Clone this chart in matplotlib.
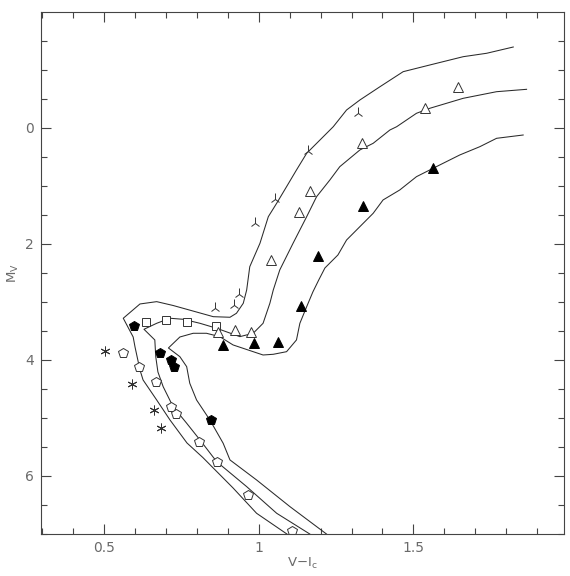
import matplotlib
matplotlib.use("Agg")
import matplotlib.pyplot as plt
from matplotlib.ticker import MultipleLocator, FixedLocator

# ---- isochrone curves (V-Ic, Mv) ----
curveA_x = [1.091, 0.993, 0.917, 0.819, 0.768, 0.713, 0.670, 0.626, 0.616, 0.600, 0.594, 0.562,
            0.616, 0.670, 0.723, 0.787, 0.853, 0.907, 0.928, 0.950, 0.961, 0.971, 1.004, 1.031,
            1.058, 1.090, 1.122, 1.155, 1.198, 1.241, 1.284, 1.327, 1.392, 1.467, 1.553, 1.661,
            1.737, 1.823]
curveA_y = [7.00, 6.643, 6.207, 5.681, 5.432, 5.035, 4.691, 4.346, 4.174, 3.778, 3.606, 3.283,
            3.037, 2.997, 3.063, 3.158, 3.256, 3.266, 3.197, 3.025, 2.796, 2.395, 1.991, 1.533,
            1.302, 1.016, 0.729, 0.441, 0.212, -0.017, -0.305, -0.477, -0.706, -0.965, -1.080,
            -1.223, -1.282, -1.390]

curveB_x = [1.165, 1.058, 0.961, 0.864, 0.810, 0.767, 0.723, 0.691, 0.674, 0.667, 0.664, 0.629,
            0.670, 0.713, 0.756, 0.810, 0.864, 0.939, 0.982, 1.014, 1.036, 1.047, 1.068, 1.111,
            1.155, 1.187, 1.230, 1.262, 1.327, 1.370, 1.424, 1.446, 1.510, 1.553, 1.661, 1.769,
            1.866]
curveB_y = [7.00, 6.643, 6.184, 5.754, 5.380, 5.092, 4.806, 4.462, 4.208, 3.945, 3.657, 3.473,
            3.370, 3.283, 3.301, 3.370, 3.456, 3.600, 3.542, 3.370, 3.025, 2.796, 2.451, 1.991,
            1.533, 1.189, 0.901, 0.672, 0.384, 0.269, 0.040, -0.017, -0.248, -0.334, -0.506,
            -0.620, -0.661]

curveC_x = [1.219, 1.101, 0.993, 0.907, 0.885, 0.842, 0.799, 0.777, 0.767, 0.745, 0.708, 0.745,
            0.788, 0.831, 0.874, 0.917, 1.014, 1.047, 1.090, 1.122, 1.133, 1.155, 1.175, 1.194,
            1.214, 1.256, 1.284, 1.327, 1.370, 1.402, 1.456, 1.510, 1.564, 1.650, 1.715, 1.769,
            1.855]
curveC_y = [7.00, 6.529, 6.069, 5.724, 5.437, 5.035, 4.691, 4.403, 4.117, 3.945, 3.795, 3.606,
            3.542, 3.542, 3.600, 3.743, 3.916, 3.904, 3.859, 3.657, 3.370, 3.084, 2.830, 2.624,
            2.417, 2.193, 1.935, 1.705, 1.475, 1.245, 1.073, 0.844, 0.699, 0.470, 0.327, 0.183,
            0.126]

# ---- stars ----
filled_pent_x = [0.597, 0.681, 0.716, 0.727, 0.845]
filled_pent_y = [3.41, 3.876, 4.00, 4.128, 5.035]

open_pent_x = [0.560, 0.613, 0.667, 0.716, 0.734, 0.806, 0.864, 0.966, 1.108]
open_pent_y = [3.886, 4.128, 4.376, 4.817, 4.932, 5.409, 5.754, 6.327, 6.942]

aster_x = [0.503, 0.591, 0.661, 0.684]
aster_y = [3.847, 4.415, 4.863, 5.178]

square_x = [0.637, 0.700, 0.767, 0.861]
square_y = [3.352, 3.318, 3.352, 3.411]

open_tri_x = [0.869, 0.923, 0.975, 1.039, 1.130, 1.165, 1.334, 1.539, 1.645]
open_tri_y = [3.525, 3.485, 3.514, 2.279, 1.457, 1.090, 0.258, -0.334, -0.696]

filled_tri_x = [0.885, 0.985, 1.063, 1.136, 1.192, 1.338, 1.564]
filled_tri_y = [3.743, 3.714, 3.697, 3.072, 2.210, 1.349, 0.689]

tri_x = [1.322, 1.160, 1.052, 0.988, 0.937, 0.921, 0.858]
tri_y = [-0.248, 0.396, 1.233, 1.637, 2.865, 3.054, 3.111]

x_major = [0.5, 1.0, 1.5]
x_major_labels = ["0.5", "1", "1.5"]
y_major = [0, 2, 4, 6]
y_major_labels = ["0", "2", "4", "6"]

fig = plt.figure(figsize=(5.70, 5.76), dpi=100)
ax = fig.add_axes([41/570, 1-534/576, (564-41)/570, (534-12)/576])

lc = "#2a2a2a"
for cx, cy in [(curveA_x, curveA_y), (curveB_x, curveB_y), (curveC_x, curveC_y)]:
    ax.plot(cx, cy, color=lc, lw=0.75)

ms_kw = dict(linestyle="none")
ax.plot(open_pent_x, open_pent_y, marker="p", ms=7, mfc="white", mec="#333", mew=0.7, **ms_kw)
ax.plot(filled_pent_x, filled_pent_y, marker="p", ms=7.5, mfc="black", mec="black", mew=0.7, **ms_kw)
ax.plot(aster_x, aster_y, marker=(6, 2, 0), ms=7, mec="#333", mew=0.7, **ms_kw)
ax.plot(square_x, square_y, marker="s", ms=6, mfc="white", mec="#333", mew=0.7, **ms_kw)
ax.plot(open_tri_x, open_tri_y, marker="^", ms=7, mfc="white", mec="#333", mew=0.7, **ms_kw)
ax.plot(filled_tri_x, filled_tri_y, marker="^", ms=7, mfc="black", mec="black", mew=0.7, **ms_kw)
ax.plot(tri_x, tri_y, marker="2", ms=8, mec="#333", mew=0.7, **ms_kw)

ax.set_xlim(0.296, 1.987)
ax.set_ylim(7.0, -1.993)

ax.xaxis.set_major_locator(FixedLocator(x_major))
ax.set_xticklabels(x_major_labels)
ax.xaxis.set_minor_locator(MultipleLocator(0.1))
ax.yaxis.set_major_locator(FixedLocator(y_major))
ax.set_yticklabels(y_major_labels)
ax.yaxis.set_minor_locator(MultipleLocator(0.5))

tc = "#6a6a6a"
ax.tick_params(which="both", direction="in", top=True, right=True, color="#444", width=0.8,
               labelcolor=tc, labelsize=10)
ax.tick_params(which="major", length=7.5, pad=5)
ax.tick_params(which="minor", length=4)
for s in ax.spines.values():
    s.set_color("#444")
    s.set_linewidth(0.8)

ax.set_xlabel(r"V$-$I$_{\rm c}$", color=tc, fontsize=9.5, labelpad=1)
ax.set_ylabel(r"M$_{\rm V}$", color=tc, fontsize=9.5, labelpad=3)

fig.savefig("out.png", dpi=100)
